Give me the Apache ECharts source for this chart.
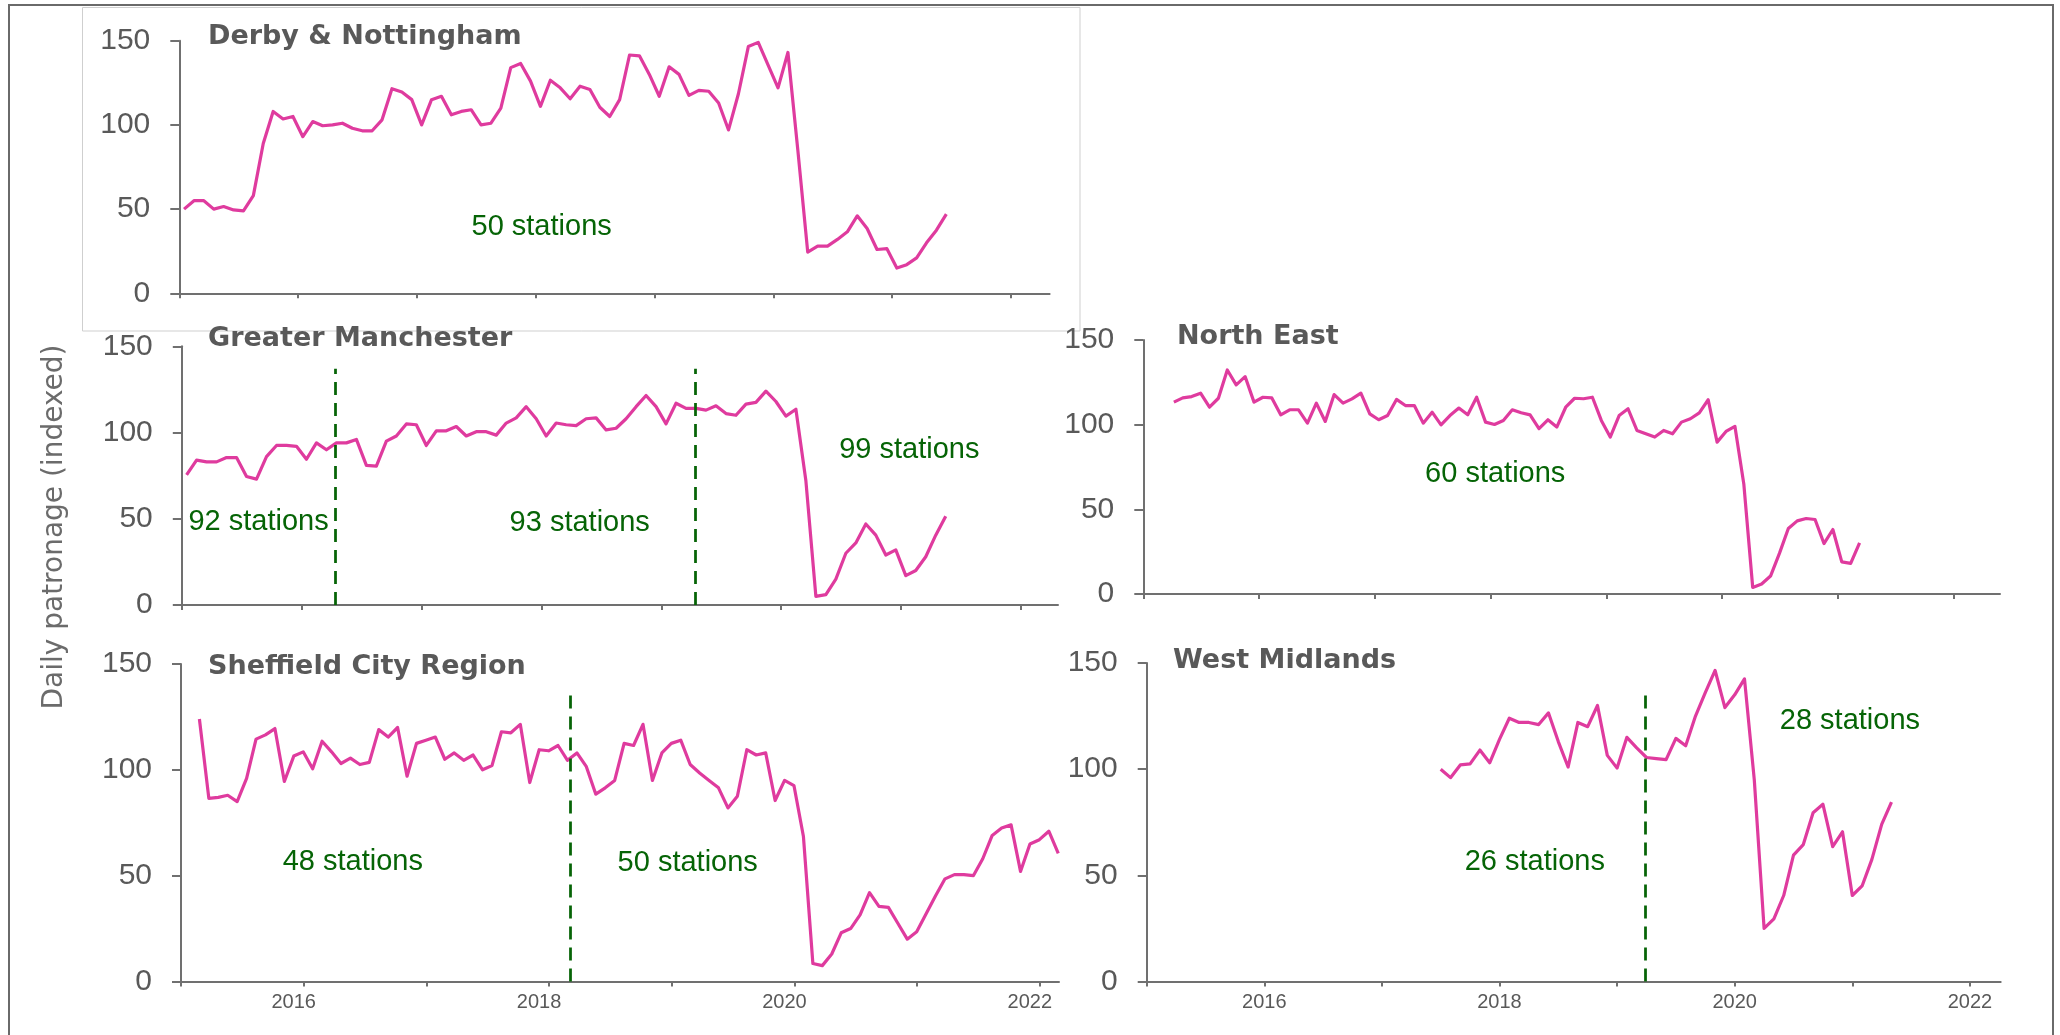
<!DOCTYPE html>
<html>
<head>
<meta charset="utf-8">
<script src="https://cdn.jsdelivr.net/npm/echarts@6/dist/echarts.min.js"></script>
<style>
  html, body { margin: 0; padding: 0; background: #ffffff; }
  #chart { width: 2060px; height: 1035px; }
</style>
</head>
<body>
<div id="chart"></div>
<script>
// ---- Data: daily patronage index per region ----
// Each series: first period (decimal year), periods per year, values.

const derbyStart = 2015.04, derbyPerYear = 12;
const derbyValues = [
  50, 55, 55, 50, 51.5, 49.5, 49, 58, 89, 108,
  103.5, 105, 93, 102, 99.5, 100, 101, 98, 96.5, 96.5,
  103, 121.5, 119.5, 115, 100, 115, 117, 106, 108, 109,
  100, 101, 110, 134, 136.5, 126, 111, 126.5, 122, 115.5,
  123, 121, 110.5, 105, 115, 141.5, 141, 130, 117, 134.5,
  130, 117.5, 120.5, 120, 113, 97, 118.5, 146.5, 149, 135.5,
  122, 143, 85, 24.5, 28, 28, 32, 36.5, 46, 38.5,
  26, 26.5, 15, 17, 21, 30, 37.5, 47
];

const manchesterStart = 2015.04, manchesterPerYear = 12;
const manchesterValues = [
  75.5, 84, 83, 83, 85.5, 85.5, 74.5, 73, 86, 92.5,
  92.5, 92, 84.5, 94, 90, 94, 94, 96, 81, 80.5,
  95, 98, 105, 104.5, 92.5, 101, 101, 103.5, 98, 100.5,
  100.5, 98.5, 105.5, 108.5, 115, 108, 98, 105.5, 104.5, 104,
  108, 108.5, 101.5, 102.5, 108, 115, 121.5, 115, 105, 117,
  114, 114, 113, 115.5, 111, 110, 116.5, 117.5, 124, 118,
  109.5, 113.5, 72, 5, 6, 15, 30, 36, 47, 40.5,
  29, 32, 17, 20, 28, 40.5, 51.5
];

const northEastStart = 2015.264, northEastPerYear = 13;
const northEastValues = [
  113.3, 115.8, 116.6, 118.6, 110.3, 115.6, 132.3, 123.5, 128.4, 113.3,
  116.2, 115.8, 105.8, 108.8, 108.8, 100.9, 112.7, 101.9, 117.8, 112.7,
  115.2, 118.6, 106.4, 102.9, 105.4, 114.9, 111.3, 111.3, 100.9, 107.4,
  99.9, 105.4, 109.8, 105.8, 116.2, 101.5, 100.1, 102.5, 108.8, 107,
  105.8, 97.6, 102.9, 98.6, 110.3, 115.6, 115.3, 116.2, 102.5, 92.7,
  105.4, 109.4, 96.6, 94.6, 92.7, 96.6, 94.6, 101.5, 103.5, 107,
  114.7, 89.7, 96, 99, 65, 3.9, 5.9, 10.6, 24, 38.7,
  43.2, 44.6, 44, 29.8, 38.1, 19, 18.1, 30.2
];

const sheffieldStart = 2015.15, sheffieldPerYear = 13;
const sheffieldValues = [
  124, 86.5, 87, 88, 85, 96, 114.5, 116.5, 119.5, 94.5,
  106.5, 108.5, 100.5, 113.5, 108.5, 103, 105.5, 102.5, 103.5, 119,
  115.5, 120, 97, 112.5, 114, 115.5, 105, 108, 104.5, 107,
  100, 102, 118, 117.5, 121.5, 94, 109.5, 109, 111.5, 104.5,
  108, 101.5, 88.5, 91.5, 95, 112.5, 111.5, 121.5, 95, 108,
  112.5, 114, 102.5, 98.5, 95, 91.5, 82, 87.5, 109.5, 107,
  108, 85.5, 95, 92.5, 68.5, 8.5, 7.5, 13, 23, 25,
  31.5, 42, 35.5, 35, 27.5, 20, 23.5, 32, 40.5, 48.5,
  50.5, 50.5, 50, 58, 69, 72.5, 74, 52, 65, 67,
  71, 60.5
];

const westMidlandsStart = 2017.5, westMidlandsPerYear = 12;
const westMidlandsValues = [
  100, 96, 102, 102.5, 109, 103, 114, 124, 122, 122,
  121, 126.5, 113, 101, 122, 120, 130, 106.5, 100.5, 115,
  110, 105.5, 105, 104.5, 114.5, 111, 125, 136, 146.5, 129,
  135, 142.5, 95, 25, 29.5, 40.5, 59.5, 64.5, 79.5, 83.5,
  63.5, 70.5, 40.5, 45, 57.5, 74, 84.5
];

// Station-count changes (decimal year) and station-count annotations [year, value, text]
const manchesterBreaks = [2016.28, 2019.28];
const sheffieldBreaks = [2018.17];
const westMidlandsBreaks = [2019.24];

const derbyNotes = [[2018.05, 39.5, '50 stations']];
const manchesterNotes = [[2015.64, 48.4, '92 stations'], [2018.32, 47.4, '93 stations'], [2021.07, 90, '99 stations']];
const northEastNotes = [[2018.04, 71, '60 stations']];
const sheffieldNotes = [[2016.40, 56.5, '48 stations'], [2019.13, 56, '50 stations']];
const westMidlandsNotes = [[2018.30, 56.3, '26 stations'], [2020.98, 122.5, '28 stations']];

// Axis ticks
const yTickValues = [0, 50, 100, 150];
const xTickYears = [2015, 2016, 2017, 2018, 2019, 2020, 2021, 2022];
const xLabelYears = [2016, 2018, 2020, 2022];

const regionTitles = ['Derby & Nottingham', 'Greater Manchester', 'North East', 'Sheffield City Region', 'West Midlands'];
const yAxisTitle = 'Daily patronage (indexed)';

// ---- Styling ----
const PINK = '#df3b9e';
const GREEN = '#066406';
const AXIS = '#707070';
const TEXT = '#595959';
const SANS = '"Liberation Sans", Arial, sans-serif';

// Panel layout (pixel boxes of each plot area)
const panels = [
  { title: regionTitles[0], start: derbyStart, perYear: derbyPerYear, values: derbyValues, breaks: [], notes: derbyNotes,
    box: { left: 179.3, top: 40.7, width: 870.3, height: 252.6 }, xMax: 2022.326, years: false, labelShift: 0, titleAt: [208, 36.5] },
  { title: regionTitles[1], start: manchesterStart, perYear: manchesterPerYear, values: manchesterValues, breaks: manchesterBreaks, notes: manchesterNotes,
    box: { left: 181.8, top: 346.3, width: 876.2, height: 258.7 }, xMax: 2022.31, years: false, labelShift: 0, titleAt: [208, 339] },
  { title: regionTitles[2], start: northEastStart, perYear: northEastPerYear, values: northEastValues, breaks: [], notes: northEastNotes,
    box: { left: 1143.3, top: 340, width: 856.7, height: 254 }, xMax: 2022.40, years: false, labelShift: 0, titleAt: [1177, 337] },
  { title: regionTitles[3], start: sheffieldStart, perYear: sheffieldPerYear, values: sheffieldValues, breaks: sheffieldBreaks, notes: sheffieldNotes,
    box: { left: 181, top: 664, width: 878, height: 317.5 }, xMax: 2022.156, years: true, labelShift: 10, titleAt: [208, 666.5] },
  { title: regionTitles[4], start: westMidlandsStart, perYear: westMidlandsPerYear, values: westMidlandsValues, breaks: westMidlandsBreaks, notes: westMidlandsNotes,
    box: { left: 1146.7, top: 663, width: 854, height: 318.5 }, xMax: 2022.262, years: true, labelShift: 0, titleAt: [1173, 660.5] }
];

const grid = [], xAxis = [], yAxis = [], series = [], graphic = [];

panels.forEach((p, k) => {
  grid.push(Object.assign({ containLabel: false }, p.box));

  xAxis.push({
    type: 'value', gridIndex: k, min: 2015, max: p.xMax,
    axisLine: { show: true, onZero: false, lineStyle: { color: AXIS, width: 2 } },
    axisTick: { show: true, length: 5, customValues: xTickYears, lineStyle: { color: AXIS, width: 2 } },
    axisLabel: {
      show: p.years, customValues: xLabelYears, formatter: v => String(v),
      fontFamily: SANS, fontSize: 20, color: TEXT, margin: 11,
      padding: [0, p.labelShift * 2, 0, 0]
    },
    splitLine: { show: false }
  });

  yAxis.push({
    type: 'value', gridIndex: k, min: 0, max: 150, interval: 50,
    axisLine: { show: true, lineStyle: { color: AXIS, width: 2 } },
    axisTick: { show: true, length: 9, customValues: yTickValues, lineStyle: { color: AXIS, width: 2 } },
    axisLabel: { customValues: yTickValues, fontFamily: SANS, fontSize: 30, color: TEXT, margin: 29 },
    splitLine: { show: false }
  });

  series.push({
    type: 'line', xAxisIndex: k, yAxisIndex: k,
    data: p.values.map((v, i) => [p.start + i / p.perYear, v]),
    symbol: 'none', showSymbol: false, smooth: false,
    lineStyle: { color: PINK, width: 3.2, join: 'round' },
    animation: false, silent: true,
    markLine: {
      silent: true, animation: false, symbol: ['none', 'none'],
      label: { show: false },
      lineStyle: { color: GREEN, width: 2.75, type: [13, 8] },
      data: p.breaks.map(b => [{ coord: [b, 0] }, { coord: [b, 137] }])
    },
    markPoint: {
      silent: true, animation: false, symbol: 'rect', symbolSize: 1,
      itemStyle: { color: 'rgba(0,0,0,0)' },
      label: { show: true, position: 'inside', formatter: '{b}', fontFamily: SANS, fontSize: 29, color: GREEN },
      data: p.notes.map(n => ({ name: n[2], coord: [n[0], n[1]] }))
    }
  });

  graphic.push({
    type: 'text', x: p.titleAt[0], y: p.titleAt[1], silent: true,
    style: { text: p.title, font: 'bold 27px "DejaVu Sans", sans-serif', fill: TEXT, verticalAlign: 'middle', align: 'left' }
  });
});

// Outer frame and the inset box around the first panel
graphic.push(
  { type: 'rect', silent: true, z: -1, shape: { x: 82.5, y: 7.5, width: 997.5, height: 323.5 },
    style: { fill: 'none', stroke: '#cfcfcf', lineWidth: 1 } },
  { type: 'polyline', silent: true, shape: { points: [[9, 1035], [9, 5], [2053, 5], [2053, 1035]] },
    style: { fill: 'none', stroke: '#6a6a6a', lineWidth: 2 } },
  { type: 'text', x: 54.5, y: 527, rotation: Math.PI / 2, silent: true,
    style: { text: yAxisTitle, font: '28px "DejaVu Sans", sans-serif', fill: '#6b6b6b', align: 'center', verticalAlign: 'middle' } }
);

const chart = echarts.init(document.getElementById('chart'), null, { renderer: 'canvas' });
chart.setOption({
  animation: false,
  backgroundColor: '#ffffff',
  grid, xAxis, yAxis, series, graphic
});
</script>
</body>
</html>
